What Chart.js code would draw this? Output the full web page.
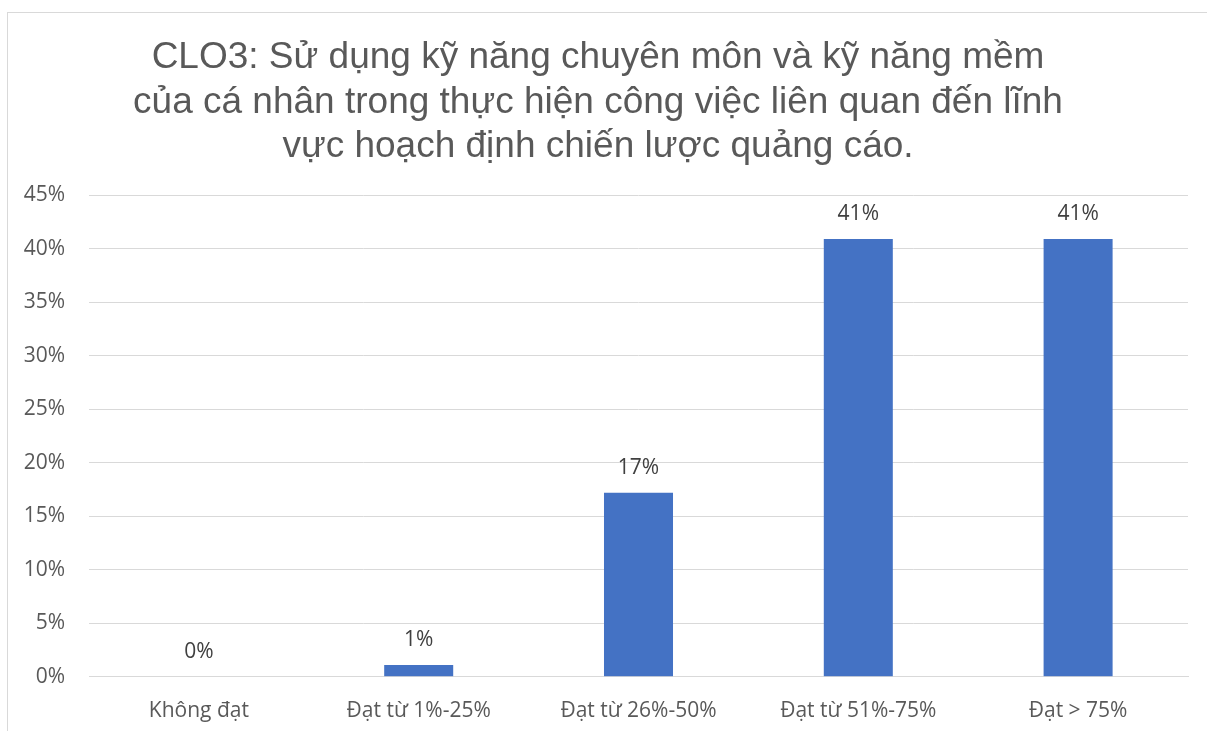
<!DOCTYPE html>
<html>
<head>
<meta charset="utf-8">
<script src="https://cdn.jsdelivr.net/npm/chart.js@4/dist/chart.umd.min.js"></script>
<style>
  html, body { margin: 0; padding: 0; background: #fff; overflow: hidden; }
  #box { position: absolute; left: 7px; top: 12px; width: 1220px; height: 780px; border: 1px solid #d9d9d9; box-sizing: border-box; }
  #wrap { position: absolute; left: 0; top: 0; width: 1200px; height: 735px; }
</style>
</head>
<body>
<div id="box"><div id="wrap"><canvas id="c"></canvas></div></div>
<script>
const titleLines = [
  "CLO3: Sử dụng kỹ năng chuyên môn và kỹ năng mềm",
  "của cá nhân trong thực hiện công việc liên quan đến lĩnh",
  "vực hoạch định chiến lược quảng cáo."
];
const categories = ["Không đạt", "Đạt từ 1%-25%", "Đạt từ 26%-50%", "Đạt từ 51%-75%", "Đạt > 75%"];
const values = [0, 1.1, 17.2, 40.9, 40.9];
const valueLabels = ["0%", "1%", "17%", "41%", "41%"];
const yTicks = [0, 5, 10, 15, 20, 25, 30, 35, 40, 45];

const labelPlugin = {
  id: 'barLabels',
  afterDatasetsDraw(chart) {
    const ctx = chart.ctx;
    const meta = chart.getDatasetMeta(0);
    ctx.save();
    ctx.font = '21px "Open Sans", sans-serif';
    ctx.fillStyle = '#404040';
    ctx.textAlign = 'center';
    ctx.textBaseline = 'middle';
    meta.data.forEach((bar, i) => {
      ctx.fillText(valueLabels[i], bar.x, bar.y - 25);
    });
    ctx.restore();
  }
};

new Chart(document.getElementById('c'), {
  type: 'bar',
  data: {
    labels: categories,
    datasets: [{
      data: values,
      backgroundColor: '#4472C4',
      categoryPercentage: 1.0,
      barPercentage: 0.314
    }]
  },
  options: {
    responsive: true,
    maintainAspectRatio: false,
    animation: false,
    layout: { padding: { left: 0, right: 20, top: 10, bottom: 10 } },
    plugins: {
      legend: { display: false },
      tooltip: { enabled: false },
      title: {
        display: true,
        text: titleLines,
        color: '#595959',
        font: { family: '"Liberation Sans", Arial, sans-serif', size: 37, weight: 'normal', lineHeight: 1.2 },
        padding: { top: 13, bottom: 26 }
      }
    },
    scales: {
      x: {
        grid: { display: false },
        border: { color: '#d9d9d9' },
        ticks: { color: '#595959', font: { family: '"Open Sans", sans-serif', size: 21 }, padding: 14 }
      },
      y: {
        min: 0, max: 45,
        afterBuildTicks(axis) { axis.ticks = yTicks.map(v => ({ value: v })); },
        afterFit(axis) { axis.width = 81; },
        grid: { color: '#d9d9d9', drawTicks: false, lineWidth: 1 },
        border: { display: false },
        ticks: {
          color: '#595959',
          font: { family: '"Open Sans", sans-serif', size: 21 },
          padding: 24,
          callback: v => v + '%'
        }
      }
    }
  },
  plugins: [labelPlugin]
});
</script>
</body>
</html>
